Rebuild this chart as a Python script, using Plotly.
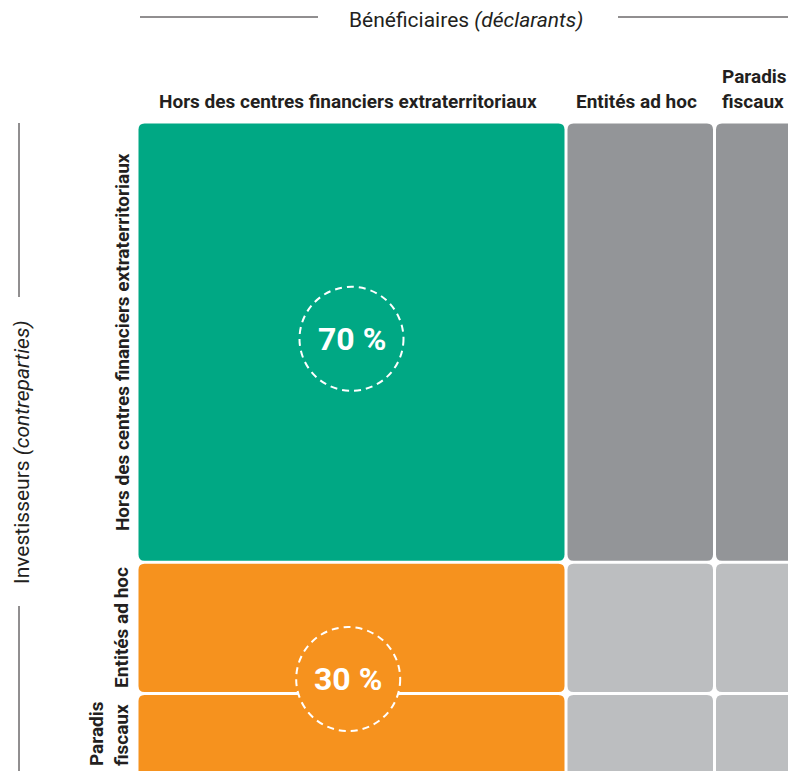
import plotly.graph_objects as go

# ---------------- data ----------------
beneficiaires = ["Hors des centres financiers extraterritoriaux", "Entités ad hoc", "Paradis fiscaux"]
col_header_text = ["Hors des centres financiers extraterritoriaux", "Entités ad hoc", "Paradis<br>fiscaux"]
col_shares = [65.0, 22.5, 14.0]

investisseurs = ["Hors des centres financiers extraterritoriaux", "Entités ad hoc", "Paradis fiscaux"]
row_header_text = ["Hors des centres financiers extraterritoriaux", "Entités ad hoc", "Paradis<br>fiscaux"]
row_shares = [66.7, 19.9, 15.5]

share_labels = ["70 %", "30 %"]

GREEN, ORANGE, DGREY, LGREY = "#00A884", "#F6921E", "#939598", "#BCBEC0"
cell_colors = [
    [GREEN, DGREY, DGREY],
    [ORANGE, LGREY, LGREY],
    [ORANGE, LGREY, LGREY],
]

FONT = "Roboto, Liberation Sans, Arial, sans-serif"
TXT = "#231F20"

# ---------------- geometry ----------------
OFF = 8  # page body margin offset
W, H = 796, 771
ML, MT = 137 - OFF, 122 - OFF
PX = 6.6  # pixels per share unit (same on both axes)
plot_w, plot_h = W - ML, H - MT

def cum(v):
    out = [0.0]
    for a in v:
        out.append(out[-1] + a)
    return out

xe = cum(col_shares)
ye = cum(row_shares)
gap = 3.0 / PX
rad = 6.0 / PX

def px2paper_x(px):
    return (px - OFF - ML) / plot_w

def px2paper_y(py):
    return 1 - (py - OFF - MT) / plot_h

def rrect(x0, x1, y0, y1, r):
    return (f"M{x0+r},{y0} L{x1-r},{y0} Q{x1},{y0} {x1},{y0+r} "
            f"L{x1},{y1-r} Q{x1},{y1} {x1-r},{y1} L{x0+r},{y1} "
            f"Q{x0},{y1} {x0},{y1-r} L{x0},{y0+r} Q{x0},{y0} {x0+r},{y0} Z")

shapes = []
for i in range(len(row_shares)):
    for j in range(len(col_shares)):
        x0, x1 = xe[j] + gap / 2, xe[j + 1] - gap / 2
        y0, y1 = ye[i] + gap / 2, ye[i + 1] - gap / 2
        shapes.append(dict(type="path", xref="x", yref="y",
                           path=rrect(x0, x1, y0, y1, rad),
                           fillcolor=cell_colors[i][j], line=dict(width=0),
                           layer="below"))

# circles with share labels
R = 52.0 / PX
cx = (xe[0] + xe[1]) / 2
circ_centers = [(cx, (ye[0] + ye[1]) / 2 - 0.5), (cx - 0.5, (ye[1] + ye[3]) / 2)]
circ_fill = [GREEN, ORANGE]
annotations = []
for (ccx, ccy), lab, fc in zip(circ_centers, share_labels, circ_fill):
    shapes.append(dict(type="circle", xref="x", yref="y",
                       x0=ccx - R, x1=ccx + R, y0=ccy - R, y1=ccy + R,
                       fillcolor=fc, line=dict(color="white", width=2, dash="7px,5px")))
    annotations.append(dict(x=ccx, y=ccy, xref="x", yref="y", text=f"<b>{lab}</b>",
                            xanchor="center", yanchor="middle",
                            showarrow=False, font=dict(family=FONT, size=32, color="white")))

HS = 19  # header font size
# column headers
for j, t in enumerate(col_header_text):
    if j < 2:
        annotations.append(dict(x=(xe[j] + xe[j + 1]) / 2 - 0.6, xref="x", y=px2paper_y(115), yref="paper",
                                xanchor="center", yanchor="bottom", text=f"<b>{t}</b>",
                                showarrow=False, font=dict(family=FONT, size=HS, color=TXT)))
    else:
        annotations.append(dict(x=xe[j] + 5.0 / PX, xref="x", y=px2paper_y(115), yref="paper",
                                xanchor="left", yanchor="bottom", align="left", text=f"<b>{t}</b>",
                                showarrow=False, font=dict(family=FONT, size=HS, color=TXT)))

# row headers (rotated)
for i, t in enumerate(row_header_text):
    if i < 2:
        annotations.append(dict(x=px2paper_x(122), xref="paper", y=(ye[i] + ye[i + 1]) / 2, yref="y",
                                xanchor="center", yanchor="middle", textangle=-90,
                                text=f"<b>{t}</b>", showarrow=False,
                                font=dict(family=FONT, size=HS, color=TXT)))
    else:
        annotations.append(dict(x=px2paper_x(109), xref="paper", y=ye[i] + 6.0 / PX, yref="y",
                                xanchor="center", yanchor="top", textangle=-90, align="left",
                                text=f"<b>{t}</b>", showarrow=False,
                                font=dict(family=FONT, size=HS, color=TXT)))

# axis titles
annotations.append(dict(x=px2paper_x(466), y=px2paper_y(20), xref="paper", yref="paper",
                        xanchor="center", yanchor="middle",
                        text="Bénéficiaires <i>(déclarants)</i>", showarrow=False,
                        font=dict(family=FONT, size=21, color=TXT)))
annotations.append(dict(x=px2paper_x(22), y=px2paper_y(452), xref="paper", yref="paper",
                        xanchor="center", yanchor="middle",
                        textangle=-90, text="Investisseurs <i>(contreparties)</i>", showarrow=False,
                        font=dict(family=FONT, size=21, color=TXT)))

line = dict(color=TXT, width=1)
shapes += [
    dict(type="line", xref="paper", yref="paper", x0=px2paper_x(140), x1=px2paper_x(318),
         y0=px2paper_y(17), y1=px2paper_y(17), line=line),
    dict(type="line", xref="paper", yref="paper", x0=px2paper_x(618), x1=px2paper_x(800),
         y0=px2paper_y(17), y1=px2paper_y(17), line=line),
    dict(type="line", xref="paper", yref="paper", x0=px2paper_x(19), x1=px2paper_x(19),
         y0=px2paper_y(123), y1=px2paper_y(297), line=line),
    dict(type="line", xref="paper", yref="paper", x0=px2paper_x(19), x1=px2paper_x(19),
         y0=px2paper_y(606), y1=px2paper_y(775), line=line),
]

fig = go.Figure(go.Scatter(x=[], y=[], hoverinfo="skip", showlegend=False))
fig.update_layout(
    width=W, height=H,
    margin=dict(l=ML, r=0, t=MT, b=0),
    paper_bgcolor="white", plot_bgcolor="white",
    xaxis=dict(range=[0, plot_w / PX], visible=False, fixedrange=True),
    yaxis=dict(range=[plot_h / PX, 0], visible=False, fixedrange=True),
    shapes=shapes, annotations=annotations, showlegend=False,
)
fig.write_html("out.html")
